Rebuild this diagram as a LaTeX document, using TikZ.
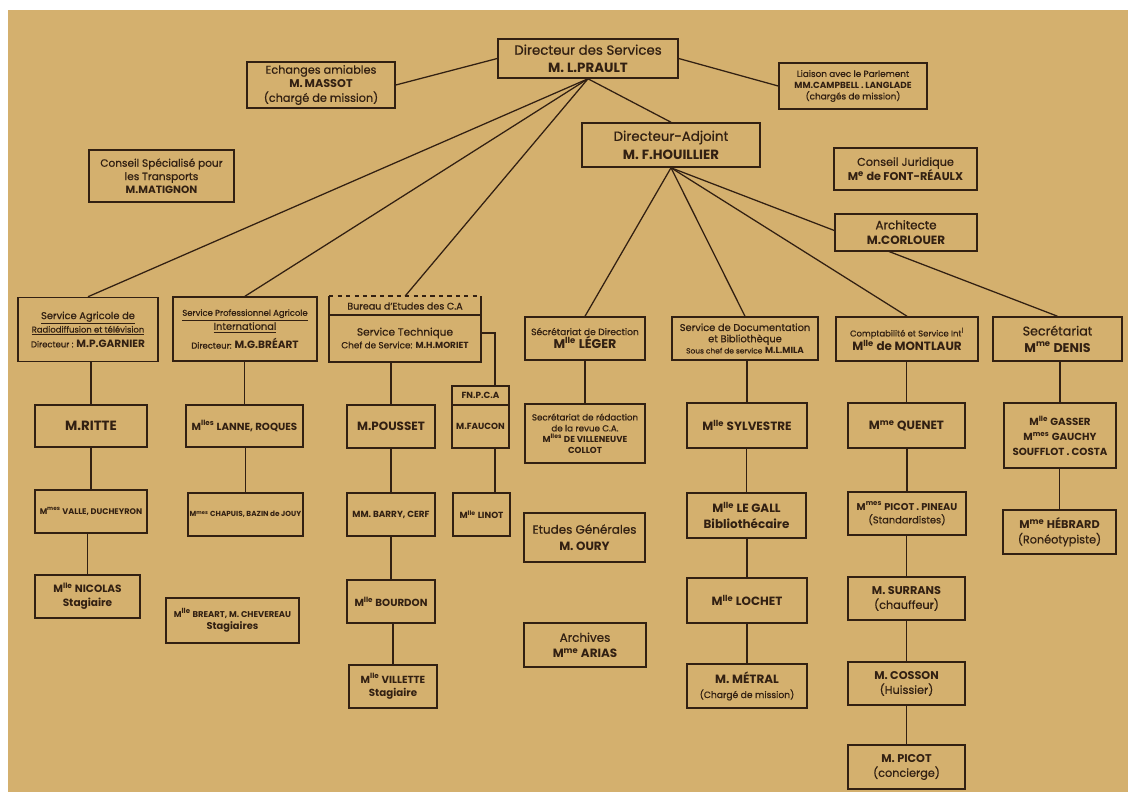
\documentclass[tikz,border=0pt]{standalone}
\usepackage{fontspec}
\setmainfont{Poppins}[UprightFeatures={FakeBold=0.7}]
\usetikzlibrary{backgrounds}
\definecolor{paper}{RGB}{212,176,110}
\definecolor{ink}{RGB}{50,32,18}
\newcommand{\fs}[2]{\fontsize{#1}{#2}\selectfont}
\newcommand{\Mt}[1]{M\textsuperscript{#1}}
\tikzset{
  box/.style={draw=ink, fill=paper, line width=1.1pt, align=center, inner sep=1pt, text=ink},
  wh/.style 2 args={minimum width=#1*0.025cm, minimum height=#2*0.025cm},
  lnk/.style={draw=ink, line width=0.9pt},
  big/.style={font=\fs{9.5}{12}\bfseries},
  mid/.style={font=\fs{7.5}{9.5}},
  sml/.style={font=\fs{6}{7.5}},
}
\begin{document}
\begin{tikzpicture}[x=0.025cm,y=-0.025cm]
    \begin{scope}[on background layer]
        \fill[white] (0,0) rectangle (1128,792);
        \fill[paper] (8,10) rectangle (1128,792);
    \end{scope}
    % direction
    \node[box,font=\fs{9.5}{12.5},wh={180}{39}] (dir) at (588,58.5) {Directeur des Services\\\textbf{M. L.PRAULT}};
    \node[box,font=\fs{8}{10},wh={148}{46}] (massot) at (321,85) {Echanges amiables\\\textbf{M.\,MASSOT}\\(chargé de mission)};
    \node[box,font=\fs{6.3}{8},wh={148}{46}] (parlement) at (853,86) {Liaison avec le Parlement\\\textbf{MM.CAMPBELL . LANGLADE}\\(chargés de mission)};
    \node[box,font=\fs{9.5}{13},wh={178}{44}] (adjoint) at (671,145) {Directeur-Adjoint\\\textbf{M. F.HOUILLIER}};
    \node[box,font=\fs{7.5}{9.5},wh={145}{52}] (transports) at (161.5,176) {Conseil Spécialisé pour\\les Transports\\\textbf{M.MATIGNON}};
    \node[box,font=\fs{8}{10.5},wh={143}{42}] (juridique) at (905.5,169) {Conseil Juridique\\\textbf{\Mt{e} de FONT-RÉAULX}};
    \node[box,font=\fs{8.5}{11},wh={142}{37}] (archi) at (906,232.5) {Architecte\\\textbf{M.CORLOUER}};
    % services
    \node[box,sml,wh={140}{64}] (agricole) at (88,329.5) {\underline{\fs{7}{8.5}Service Agricole de}\\\underline{Radiodiffusion et télévision}\\[3pt]Directeur : {\fs{7.5}{9}\bfseries M.P.GARNIER}};
    \node[box,sml,wh={144}{64}] (professionnel) at (245,329) {\underline{Service Professionnel Agricole}\\\underline{\fs{7}{8.5}International}\\[3pt]Directeur: {\fs{7.5}{9}\bfseries M.G.BRÉART}};
    \node[box,draw=none,wh={150}{64}] (bureau) at (405,329) {};
    \node[text=ink,font=\fs{6.8}{8}] (bureau-titre) at (405,306) {Bureau d'Etudes des C.A};
    \node[text=ink,font=\fs{6.3}{9},align=center] (bureau-chef) at (405,338) {{\fs{7.5}{9}Service Technique}\\Chef de Service: \textbf{M.H.MORIET}};
    \node[box,font=\fs{6.5}{8},wh={120}{43}] (direction) at (585,338.5) {Sécrétariat de Direction\\{\fs{9}{11}\bfseries \Mt{lle} LÉGER}};
    \node[box,font=\fs{7}{8},wh={146}{43}] (documentation) at (745,338.5) {Service de Documentation\\et Bibliothèque\\{\fs{5.3}{7}Sous chef de service} {\fs{6.3}{7}\bfseries M.L.MILA}};
    \node[box,sml,wh={142}{44}] (compta) at (907,339) {Comptabilité et Service Int\textsuperscript{l}\\{\fs{8.5}{11}\bfseries \Mt{lle} de MONTLAUR}};
    \node[box,font=\fs{9}{12},wh={129}{44}] (secretariat) at (1057.5,339) {Secrétariat\\\textbf{\Mt{me} DENIS}};
    % bureaux
    \node[box,big,wh={112}{42}] (ritte) at (91,426) {M.RITTE};
    \node[box,font=\fs{7.3}{9}\bfseries,wh={117}{42}] (lanne) at (244.5,426) {\Mt{lles} LANNE, ROQUES};
    \node[box,font=\fs{8.5}{10}\bfseries,wh={88}{43}] (pousset) at (391,426.5) {M.POUSSET};
    \node[box,wh={57}{62}] (fnpca) at (480.5,417) {};
    \node[text=ink,font=\fs{6.3}{8}\bfseries] (fnpca-titre) at (480.5,395.5) {FN.P.C.A};
    \node[text=ink,font=\fs{6.3}{8}\bfseries] (faucon) at (480.5,426.5) {M.FAUCON};
    \node[box,font=\fs{6.2}{7.8},wh={120}{59}] (redaction) at (585,433.5) {Secrétariat de rédaction\\de la revue C.A.\\\textbf{\Mt{lles} DE VILLENEUVE}\\\textbf{COLLOT}};
    \node[box,font=\fs{8.5}{11}\bfseries,wh={120}{45}] (sylvestre) at (747,425.5) {\Mt{lle} SYLVESTRE};
    \node[box,font=\fs{8.5}{11}\bfseries,wh={117}{45}] (quenet) at (906.5,425.5) {\Mt{me} QUENET};
    \node[box,font=\fs{7.3}{10.5}\bfseries,wh={112}{65}] (gasser) at (1060,435.5) {\Mt{lle} GASSER\\\Mt{mes} GAUCHY\\SOUFFLOT . COSTA};
    \node[box,font=\fs{5.8}{7}\bfseries,wh={112}{43}] (valle) at (91,511.5) {\Mt{mes} VALLE, DUCHEYRON};
    \node[box,font=\fs{5.2}{7}\bfseries,wh={115}{43}] (chapuis) at (245.5,514.5) {\Mt{mes} CHAPUIS, BAZIN de JOUY};
    \node[box,font=\fs{6.3}{8}\bfseries,wh={88}{43}] (barry) at (391,514.5) {MM. BARRY, CERF};
    \node[box,font=\fs{6.3}{8}\bfseries,wh={57}{43}] (linot) at (481.5,514.5) {\Mt{lle} LINOT};
    \node[box,font=\fs{8.5}{12},wh={121}{49}] (etudes) at (584.5,537.5) {Etudes Générales\\\textbf{M. OURY}};
    \node[box,font=\fs{8.5}{11}\bfseries,wh={119}{45}] (legall) at (746.5,515.5) {\Mt{lle} LE GALL\\Bibliothécaire};
    \node[box,font=\fs{7}{9.5},wh={118}{43}] (pineau) at (907,513.5) {\textbf{\Mt{mes} PICOT . PINEAU}\\(Standardistes)};
    \node[box,font=\fs{8}{10.5},wh={113}{44}] (hebrard) at (1059.5,532) {\textbf{\Mt{me} HÉBRARD}\\(Ronéotypiste)};
    \node[box,font=\fs{7.5}{10}\bfseries,wh={105}{43}] (nicolas) at (87.5,596.5) {\Mt{lle} NICOLAS\\Stagiaire};
    \node[box,font=\fs{6}{9}\bfseries,wh={133}{45}] (breart) at (232.5,620.5) {\Mt{lle} BREART, M. CHEVEREAU\\{\fs{7}{9}Stagiaires}};
    \node[box,font=\fs{7.3}{9}\bfseries,wh={88}{43}] (bourdon) at (391,601.5) {\Mt{lle} BOURDON};
    \node[box,font=\fs{8.5}{11},wh={122}{44}] (archives) at (585,645) {Archives\\\textbf{\Mt{me} ARIAS}};
    \node[box,font=\fs{8.5}{11}\bfseries,wh={120}{45}] (lochet) at (747,600.5) {\Mt{lle} LOCHET};
    \node[box,font=\fs{8}{10.5},wh={117}{43}] (surrans) at (906.5,598.5) {\textbf{M. SURRANS}\\(chauffeur)};
    \node[box,font=\fs{7.3}{9.5}\bfseries,wh={88}{43}] (villette) at (393,686.5) {\Mt{lle} VILLETTE\\Stagiaire};
    \node[box,font=\fs{8.5}{10.5},wh={120}{44}] (metral) at (747,686) {\textbf{M. MÉTRAL}\\{\fs{6.5}{8}(Chargé de mission)}};
    \node[box,font=\fs{8}{10.5},wh={117}{43}] (cosson) at (906.5,683.5) {\textbf{M. COSSON}\\(Huissier)};
    \node[box,font=\fs{8}{10.5},wh={117}{44}] (picot) at (906.5,767) {\textbf{M. PICOT}\\(concierge)};
    % cadres a deux cases
    \draw[ink,line width=1.1pt] (bureau.north west) -- (bureau.south west) -- (bureau.south east) -- (bureau.north east);
    \draw[ink,line width=1.1pt,dashed] (bureau.north west) -- (bureau.north east);
    \draw[ink,line width=1pt] (bureau.west |- 0,315) -- (bureau.east |- 0,315);
    \draw[ink,line width=1pt] (fnpca.west |- 0,405) -- (fnpca.east |- 0,405);
    % liaisons
    \begin{scope}[on background layer]
        \draw[lnk] (massot.east) -- (dir.west);
        \draw[lnk] (dir.east) -- (parlement.west);
        \foreach \n in {agricole,professionnel,bureau,adjoint}
            \draw[lnk] (dir.south) -- (\n.north);
        % la ligne du secretariat passe sous l'architecte
        \foreach \n in {direction,documentation,compta,secretariat}
            \draw[lnk] (adjoint.south) -- (\n.north);
        \foreach \a/\b in {agricole/ritte,ritte/valle,valle/nicolas,professionnel/lanne,lanne/chapuis,
                bureau/pousset,pousset/barry,barry/bourdon,bourdon/villette,direction/redaction,
                documentation/sylvestre,sylvestre/legall,legall/lochet,lochet/metral,
                compta/quenet,quenet/pineau,pineau/surrans,surrans/cosson,cosson/picot,
                secretariat/gasser,gasser/hebrard}
            \draw[lnk] (\b.north) -- (\b.north |- \a.south);
        \coordinate (coude) at (495,333);
        \draw[lnk] (bureau.east |- coude) -| (fnpca.north -| coude);
        \draw[lnk] (fnpca.south -| coude) -- (linot.north -| coude);
    \end{scope}
\end{tikzpicture}
\end{document}
